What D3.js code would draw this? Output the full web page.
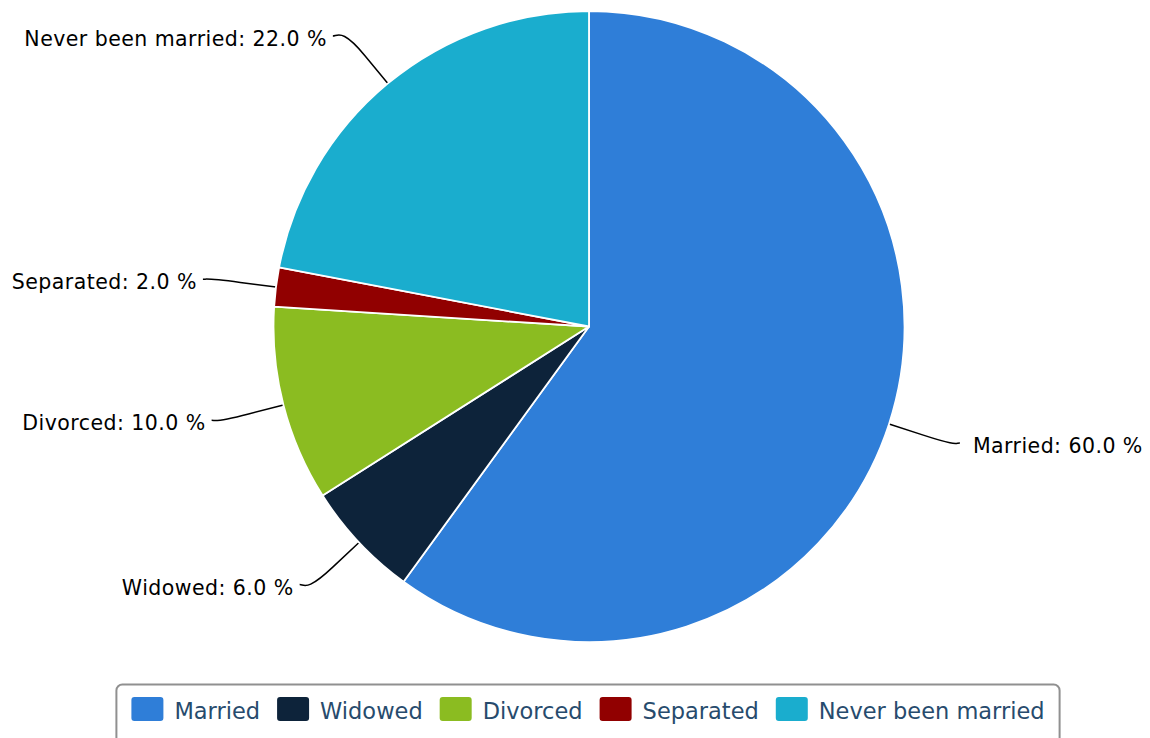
<!DOCTYPE html>
<html>
<head>
<meta charset="utf-8">
<script src="https://cdn.jsdelivr.net/npm/d3@7"></script>
<style>
  html, body { margin: 0; padding: 0; background: #fff; }
  svg { display: block; }
  text { font-family: "DejaVu Sans", Verdana, sans-serif; }
</style>
</head>
<body>
<svg id="chart" width="1150" height="738"></svg>
<script>
const categories = ["Married", "Widowed", "Divorced", "Separated", "Never been married"];
const values = [60.0, 6.0, 10.0, 2.0, 22.0];
const colors = ["#2f7ed8", "#0d233a", "#8bbc21", "#910000", "#1aadce"];

const cx = 589, cy = 326.5, r = 315.5;
const labelYR = 377, labelXR = 384, breakOff = 36;

const svg = d3.select("#chart");
const data = categories.map((c, i) => ({ name: c, value: values[i], color: colors[i] }));

const pie = d3.pie().value(d => d.value).sort(null);
const arcs = pie(data);
const arc = d3.arc().innerRadius(0).outerRadius(r);

const g = svg.append("g").attr("transform", `translate(${cx},${cy})`);

const fmt = d3.format(".1f");
arcs.forEach(a => {
  const m = (a.startAngle + a.endAngle) / 2;
  const s = Math.sin(m), c = -Math.cos(m);
  const side = s >= 0 ? 1 : -1;
  const E = [s * r, c * r];
  const B = [s * (r + breakOff), c * (r + breakOff)];
  const C2 = [s * (r + 2 * breakOff), c * (r + 2 * breakOff)];
  const ly = c * labelYR;
  const lx = side * Math.sqrt(labelXR * labelXR - ly * ly);
  const path = d3.path();
  path.moveTo(lx + side * 5, ly);
  path.bezierCurveTo(lx, ly, C2[0], C2[1], B[0], B[1]);
  path.lineTo(E[0], E[1]);
  g.append("path").attr("d", path.toString())
    .attr("fill", "none").attr("stroke", "#000").attr("stroke-width", 1.5);
  g.append("text")
    .attr("x", lx + side * (side > 0 ? 18 : 11))
    .attr("y", ly + 10)
    .attr("text-anchor", side > 0 ? "start" : "end")
    .attr("font-size", 20.5)
    .attr("letter-spacing", 0.45)
    .attr("fill", "#000")
    .text(`${a.data.name}: ${fmt(a.data.value)} %`);
});

g.selectAll("path.slice").data(arcs).enter().append("path")
  .attr("class", "slice")
  .attr("d", arc)
  .attr("fill", d => d.data.color)
  .attr("stroke", "#fff")
  .attr("stroke-width", 1.8)
  .attr("stroke-linejoin", "round");

// legend
const lg = svg.append("g");
const legendBox = lg.append("rect");
const items = lg.append("g");
let x = 0;
const symW = 32, symH = 24, gapText = 11, gapItem = 17;
data.forEach((d, i) => {
  const it = items.append("g").attr("transform", `translate(${x},0)`);
  it.append("rect").attr("x", 0).attr("y", 0).attr("width", symW).attr("height", symH)
    .attr("rx", 3).attr("fill", d.color);
  const t = it.append("text").attr("x", symW + gapText).attr("y", 22)
    .attr("font-size", 22.5).attr("fill", "#274b6d").text(d.name);
  const tw = t.node().getComputedTextLength();
  x += symW + gapText + tw + gapItem;
});
const totalW = x - gapItem;
const legendCx = 588;
const itemsX = legendCx - totalW / 2;
items.attr("transform", `translate(${itemsX},697)`);
legendBox.attr("x", itemsX - 15).attr("y", 684.5)
  .attr("width", totalW + 30).attr("height", 62)
  .attr("rx", 6).attr("fill", "#fff").attr("stroke", "#909090").attr("stroke-width", 2);
</script>
</body>
</html>
